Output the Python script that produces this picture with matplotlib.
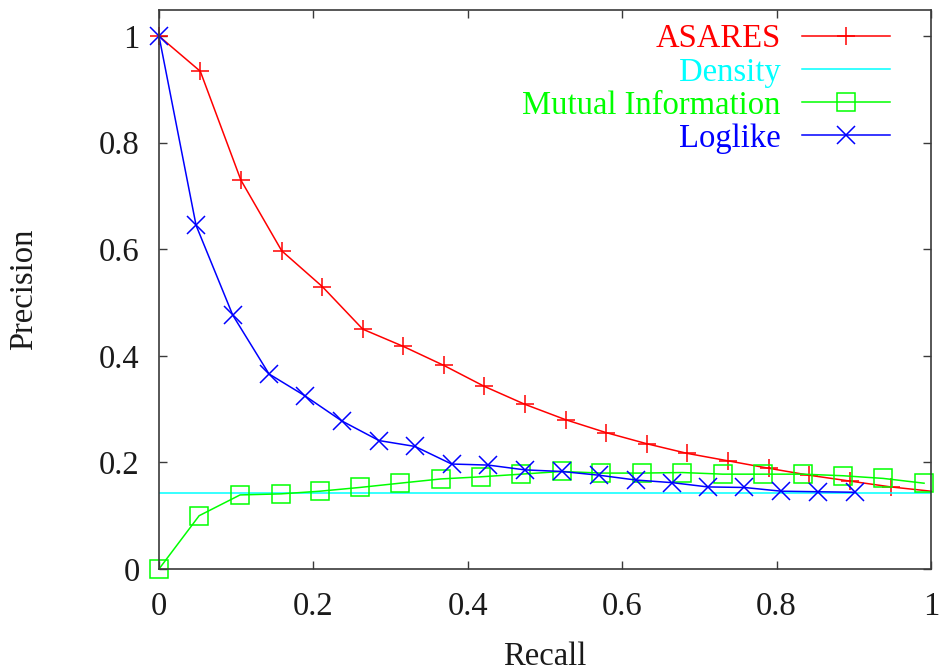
import matplotlib
matplotlib.use("Agg")
import matplotlib.pyplot as plt

# precision / recall curves
asares_recall = [0.0, 0.0535, 0.106, 0.159, 0.2115, 0.264, 0.316, 0.369, 0.421, 0.474,
                 0.527, 0.579, 0.632, 0.684, 0.737, 0.790, 0.842, 0.895, 0.948, 1.0]
asares_prec = [1.0, 0.934, 0.730, 0.597, 0.530, 0.450, 0.418, 0.382, 0.343, 0.309,
               0.280, 0.256, 0.235, 0.217, 0.203, 0.189, 0.176, 0.165, 0.154, 0.146]

density_recall = [0.0, 1.0]
density_prec = [0.143, 0.143]

mi_recall = [0.0, 0.052, 0.105, 0.158, 0.2085, 0.260, 0.312, 0.365, 0.417, 0.469,
             0.5215, 0.573, 0.625, 0.678, 0.730, 0.782, 0.834, 0.886, 0.938, 0.991]
mi_prec = [0.0, 0.100, 0.139, 0.141, 0.146, 0.153, 0.161, 0.169, 0.173, 0.178,
           0.183, 0.180, 0.180, 0.181, 0.178, 0.178, 0.178, 0.175, 0.170, 0.161]

loglike_recall = [0.0, 0.048, 0.0955, 0.1425, 0.189, 0.2366, 0.285, 0.3316, 0.379, 0.4266,
                  0.474, 0.5215, 0.570, 0.6175, 0.665, 0.711, 0.758, 0.806, 0.853, 0.901]
loglike_prec = [1.0, 0.645, 0.4765, 0.366, 0.325, 0.278, 0.241, 0.230, 0.197, 0.195,
                0.186, 0.183, 0.176, 0.167, 0.162, 0.154, 0.153, 0.146, 0.145, 0.144]

x_ticks = [0, 0.2, 0.4, 0.6, 0.8, 1]
x_tick_labels = ["0", "0.2", "0.4", "0.6", "0.8", "1"]
y_ticks = [0, 0.2, 0.4, 0.6, 0.8, 1]
y_tick_labels = ["0", "0.2", "0.4", "0.6", "0.8", "1"]

FRAME = "#3a3a3a"
TEXT = "#1a1a1a"
FS = 23.5

plt.rcParams["font.family"] = ["Liberation Serif", "DejaVu Serif"]

fig = plt.figure(figsize=(9.4, 6.66), dpi=100)
ax = fig.add_axes([159 / 940, 97 / 666, 772 / 940, 559 / 666])

ms = 13
mew = 1.1
# last ASARES point sits on the right border: line reaches it, no marker drawn
ax.plot(asares_recall, asares_prec, color="#ff0000", lw=1.1, marker="+", ms=ms, mew=mew,
        markevery=slice(0, len(asares_recall) - 1), label="ASARES", clip_on=False)
ax.plot(density_recall, density_prec, color="#00ffff", lw=1.1, label="Density")
ax.plot(mi_recall, mi_prec, color="#00ff00", lw=1.1, marker="s", ms=ms, mew=mew,
        mfc="none", label="Mutual Information", clip_on=False)
ax.plot(loglike_recall, loglike_prec, color="#0000ff", lw=1.1, marker="x", ms=ms, mew=mew,
        label="Loglike", clip_on=False)

ax.set_xlim(0, 1)
ax.set_ylim(0, 1.049)
ax.set_xticks(x_ticks, x_tick_labels)
ax.set_yticks(y_ticks, y_tick_labels)
ax.tick_params(direction="in", length=6, width=1, colors=FRAME, labelcolor=TEXT,
               labelsize=FS, top=True, right=True, pad=14)
ax.tick_params(axis="x", pad=16)
for s in ax.spines.values():
    s.set_color(FRAME)
    s.set_linewidth(1.2)

ax.set_xlabel("Recall", fontsize=FS, color=TEXT, labelpad=14)
ax.set_ylabel("Precision", fontsize=FS, color=TEXT, labelpad=43)

leg = ax.legend(loc="upper right", bbox_to_anchor=(0.947, 0.975), frameon=False,
                markerfirst=False, fontsize=FS, handlelength=2.7, handletextpad=0.65,
                labelspacing=0.08, borderpad=0, borderaxespad=0, markerscale=1.05)
for text, line in zip(leg.get_texts(), leg.get_lines()):
    text.set_color(line.get_color())

fig.savefig("out.png", dpi=100)
